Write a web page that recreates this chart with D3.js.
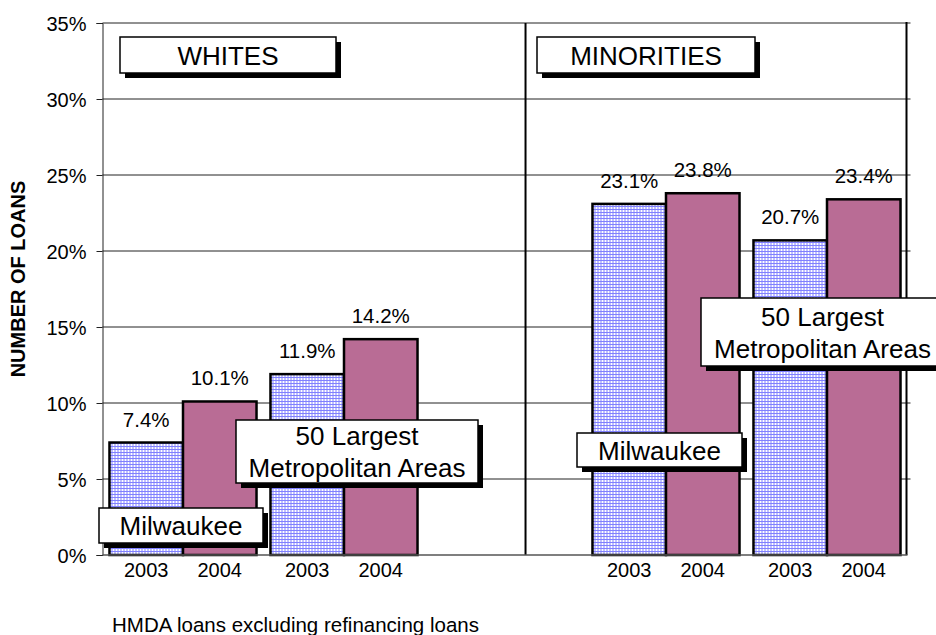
<!DOCTYPE html>
<html lang="en">
<head>
<meta charset="utf-8">
<title>HMDA loans</title>
<script src="https://d3js.org/d3.v7.min.js"></script>
<style>
  body { margin: 0; background: #fff; }
  svg text { font-family: "Liberation Sans", Arial, sans-serif; fill: #000; }
</style>
</head>
<body>
<svg id="chart"></svg>
<script>
    // data
    const slots = ["whites-milwaukee", "whites-50", "gap", "minorities-milwaukee", "minorities-50"];
    const years = ["2003", "2004"];
    const whitesMilwaukee = [7.4, 10.1];
    const whites50 = [11.9, 14.2];
    const minoritiesMilwaukee = [23.1, 23.8];
    const minorities50 = [20.7, 23.4];
    const yTicks = [0, 5, 10, 15, 20, 25, 30, 35];
    const yTitle = "NUMBER OF LOANS";
    const footnote = "HMDA loans excluding refinancing loans";

    const series = [
        {slot: "whites-milwaukee", values: whitesMilwaukee},
        {slot: "whites-50", values: whites50},
        {slot: "minorities-milwaukee", values: minoritiesMilwaukee},
        {slot: "minorities-50", values: minorities50}
    ];

    let width = 936, height = 635,
        margin = {top: 23, right: 28.5, bottom: 80, left: 102.5},
        chartWidth = width - margin.left - margin.right,
        chartHeight = height - margin.top - margin.bottom;

    let svg = d3.select("#chart")
        .attr("width", width)
        .attr("height", height);

    let defs = svg.append("defs");
    let pBlue = defs.append("pattern").attr("id", "pBlue")
        .attr("width", 3).attr("height", 3).attr("patternUnits", "userSpaceOnUse");
    pBlue.append("rect").attr("width", 3).attr("height", 3).attr("fill", "#fff");
    pBlue.append("rect").attr("width", 3).attr("height", 1).attr("fill", "#8080ff");
    pBlue.append("rect").attr("width", 1).attr("height", 3).attr("fill", "#8080ff");

    let pPurple = defs.append("pattern").attr("id", "pPurple")
        .attr("width", 2).attr("height", 2).attr("patternUnits", "userSpaceOnUse");
    pPurple.append("rect").attr("width", 2).attr("height", 2).attr("fill", "#993366");
    pPurple.append("rect").attr("x", 0).attr("y", 0).attr("width", 1).attr("height", 1).attr("fill", "#d8a6c4");
    pPurple.append("rect").attr("x", 1).attr("y", 1).attr("width", 1).attr("height", 1).attr("fill", "#d8a6c4");

    let fills = {"2003": "url(#pBlue)", "2004": "url(#pPurple)"};

    let x0 = d3.scaleBand().domain(slots).range([0, chartWidth]);
    let x1 = d3.scaleBand().domain(years).range([0, x0.bandwidth()]).paddingOuter(0.095);
    let y = d3.scaleLinear().domain([0, 35]).range([chartHeight, 0]);

    let g = svg.append("g").attr("transform", `translate(${margin.left},${margin.top})`);

    // gridlines
    g.append("g").selectAll("line")
        .data(yTicks.filter(d => d > 0))
        .enter().append("line")
        .attr("x1", 0).attr("x2", chartWidth + 3)
        .attr("y1", d => y(d)).attr("y2", d => y(d))
        .attr("stroke", "#222").attr("stroke-width", 1);

    // left axis
    let yAxis = d3.axisLeft(y).tickValues(yTicks).tickSize(6).tickPadding(10)
        .tickFormat(d => d + "%");
    let ya = g.append("g").call(yAxis);
    ya.select(".domain").attr("stroke", "#222");
    ya.selectAll(".tick line").attr("stroke", "#222");
    ya.selectAll(".tick text").attr("font-size", 20).attr("dy", "0.36em")
        .style("font-family", "'Liberation Sans', Arial, sans-serif");

    // right border and panel divider
    g.append("line").attr("x1", chartWidth - 1).attr("x2", chartWidth - 1)
        .attr("y1", -1).attr("y2", chartHeight)
        .attr("stroke", "#000").attr("stroke-width", 2);
    let dividerX = chartWidth * 0.5255;
    g.append("line").attr("x1", dividerX).attr("x2", dividerX)
        .attr("y1", 0).attr("y2", chartHeight)
        .attr("stroke", "#000").attr("stroke-width", 2);

    // bars
    let groups = g.append("g").selectAll("g")
        .data(series)
        .enter().append("g")
        .attr("transform", d => `translate(${x0(d.slot)},0)`);

    groups.selectAll("rect")
        .data(d => d.values.map((v, i) => ({year: years[i], value: v})))
        .enter().append("rect")
        .attr("x", d => x1(d.year))
        .attr("width", x1.bandwidth())
        .attr("y", d => y(d.value))
        .attr("height", d => chartHeight - y(d.value))
        .attr("fill", d => fills[d.year])
        .attr("stroke", "#000").attr("stroke-width", 2.5);

    groups.selectAll("text.val")
        .data(d => d.values.map((v, i) => ({year: years[i], value: v})))
        .enter().append("text")
        .attr("class", "val")
        .attr("x", d => x1(d.year) + x1.bandwidth() / 2)
        .attr("y", d => y(d.value) - 16)
        .attr("text-anchor", "middle")
        .attr("font-size", 20.5)
        .text(d => d.value.toFixed(1) + "%");

    groups.selectAll("text.yr")
        .data(years)
        .enter().append("text")
        .attr("class", "yr")
        .attr("x", d => x1(d) + x1.bandwidth() / 2)
        .attr("y", chartHeight + 22)
        .attr("text-anchor", "middle")
        .attr("font-size", 20)
        .text(d => d);

    // bottom baseline
    g.append("line").attr("x1", 0).attr("x2", chartWidth)
        .attr("y1", chartHeight).attr("y2", chartHeight)
        .attr("stroke", "#555").attr("stroke-width", 1.5);

    // callout boxes with drop shadow
    let boxes = [
        {lines: ["WHITES"], x: 120, y: 37, w: 216, h: 36},
        {lines: ["MINORITIES"], x: 537, y: 37, w: 218, h: 36},
        {lines: ["Milwaukee"], x: 99, y: 508, w: 164, h: 35},
        {lines: ["50 Largest", "Metropolitan Areas"], x: 236, y: 420, w: 242, h: 63},
        {lines: ["Milwaukee"], x: 577, y: 433, w: 165, h: 34},
        {lines: ["50 Largest", "Metropolitan Areas"], x: 701, y: 298, w: 243, h: 68}
    ];

    let bx = svg.append("g").selectAll("g")
        .data(boxes)
        .enter().append("g");
    bx.append("rect")
        .attr("x", d => d.x + 5).attr("y", d => d.y + 5)
        .attr("width", d => d.w).attr("height", d => d.h)
        .attr("fill", "#000");
    bx.append("rect")
        .attr("x", d => d.x).attr("y", d => d.y)
        .attr("width", d => d.w).attr("height", d => d.h)
        .attr("fill", "#fff").attr("stroke", "#000").attr("stroke-width", 1.5);
    bx.each(function (d) {
        let n = d.lines.length, lh = 32;
        let first = d.y + d.h / 2 - (n - 1) * lh / 2 + 9.5;
        d.lines.forEach((t, i) => {
            d3.select(this).append("text")
                .attr("x", d.x + d.w / 2)
                .attr("y", first + i * lh)
                .attr("text-anchor", "middle")
                .attr("font-size", 26)
                .text(t);
        });
    });

    // axis title and footnote
    svg.append("text")
        .attr("transform", `translate(25,${margin.top + chartHeight / 2 - 10}) rotate(-90)`)
        .attr("text-anchor", "middle")
        .attr("font-size", 20)
        .attr("font-weight", "bold")
        .text(yTitle);

    svg.append("text")
        .attr("x", 112).attr("y", 632)
        .attr("font-size", 20.5)
        .text(footnote);
</script>
</body>
</html>
